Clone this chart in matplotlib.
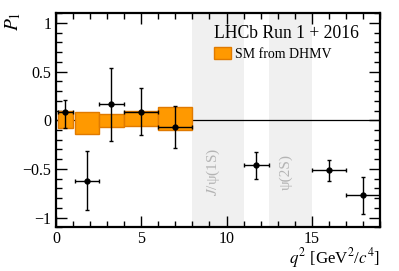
import matplotlib
matplotlib.use("Agg")
import matplotlib.pyplot as plt
from matplotlib.patches import Patch, Rectangle
from matplotlib.ticker import MultipleLocator

plt.rcParams['font.family'] = ['Liberation Serif', 'DejaVu Serif']
plt.rcParams['mathtext.fontset'] = 'stix'

# Data
bin_lo = [0.1, 1.1, 2.5, 4.0, 6.0, 11.0, 15.0, 17.0]
bin_hi = [0.98, 2.5, 4.0, 6.0, 8.0, 12.5, 17.0, 19.0]
p1_val = [0.09, -0.62, 0.17, 0.09, -0.07, -0.46, -0.51, -0.77]
p1_err_up = [0.12, 0.30, 0.37, 0.24, 0.22, 0.13, 0.10, 0.19]
p1_err_dn = [0.17, 0.30, 0.38, 0.24, 0.22, 0.14, 0.11, 0.19]
x_center = [0.54, 1.8, 3.25, 5.0, 7.0, 11.75, 16.0, 18.0]

sm_lo = [0.1, 1.1, 2.5, 4.0, 6.0]
sm_hi = [0.98, 2.5, 4.0, 6.0, 8.0]
sm_low_val = [-0.08, -0.14, -0.07, -0.06, -0.10]
sm_high_val = [0.10, 0.09, 0.06, 0.10, 0.14]

veto_lo = [8.0, 12.5]
veto_hi = [11.0, 15.0]
veto_labels = [r"$J$/ψ(1S)", "ψ(2S)"]

fig = plt.figure(figsize=(3.99, 2.71), dpi=100)
ax = fig.add_axes([0.1404, 0.1613, 0.812, 0.7897])
ax.set_xlim(0, 19)
ax.set_ylim(-1.1, 1.1)

for lo, hi, lab in zip(veto_lo, veto_hi, veto_labels):
    ax.axvspan(lo, hi, color='#f0f0f0', lw=0, zorder=0)
    ax.text((lo + hi) / 2 - 0.25, -0.53, lab, rotation=90, ha='center', va='center',
            color='#b4b4b4', fontsize=11, zorder=1)

ax.axhline(0, color='black', lw=0.9, zorder=2)

for lo, hi, a, b in zip(sm_lo, sm_hi, sm_low_val, sm_high_val):
    ax.add_patch(Rectangle((lo, a), hi - lo, b - a, facecolor='#ff9900',
                           edgecolor='#e07a00', lw=1.0, zorder=3))

xerr_lo = [c - l for c, l in zip(x_center, bin_lo)]
xerr_hi = [h - c for c, h in zip(x_center, bin_hi)]
ax.errorbar(x_center, p1_val, xerr=[xerr_lo, xerr_hi], yerr=[p1_err_dn, p1_err_up],
            fmt='o', color='black', ms=3.5, elinewidth=1.0, capsize=1.5, capthick=1.0,
            zorder=4)

for s in ax.spines.values():
    s.set_linewidth(1.6)
ax.xaxis.set_major_locator(MultipleLocator(5))
ax.xaxis.set_minor_locator(MultipleLocator(1))
ax.yaxis.set_major_locator(MultipleLocator(0.5))
ax.yaxis.set_minor_locator(MultipleLocator(0.1))
ax.tick_params(which='both', direction='in', top=True, right=True, labelsize=11.5, width=1.0)
ax.tick_params(which='major', length=8)
ax.tick_params(which='minor', length=4.5)
ax.tick_params(axis='x', pad=2.5)
ax.set_xticks([0, 5, 10, 15])
ax.set_xticklabels(['0', '5', '10', '15'])
ax.set_yticks([-1, -0.5, 0, 0.5, 1])
ax.set_yticklabels(['\u22121', '\u22120.5', '0', '0.5', '1'])

fig.text(13 / 399, 1 - 21 / 271, r"$P_1$", fontsize=14, rotation=90,
         ha='center', va='center')
fig.text(380 / 399, 1 - 258 / 271, r"$q^2$ [GeV$^2$/$c^4$]", fontsize=12.2,
         ha='right', va='center')

ax.text(0.489, 0.905, "LHCb Run 1 + 2016", transform=ax.transAxes, fontsize=12.7,
        ha='left', va='center')
ax.legend(handles=[Patch(facecolor='#ff9900', edgecolor='#e07a00', label='SM from DHMV')],
          loc='upper left', bbox_to_anchor=(0.47, 0.87), frameon=False, fontsize=10,
          handlelength=1.2, handleheight=1.0, handletextpad=0.3, borderaxespad=0)

fig.savefig("out.png", dpi=100)
